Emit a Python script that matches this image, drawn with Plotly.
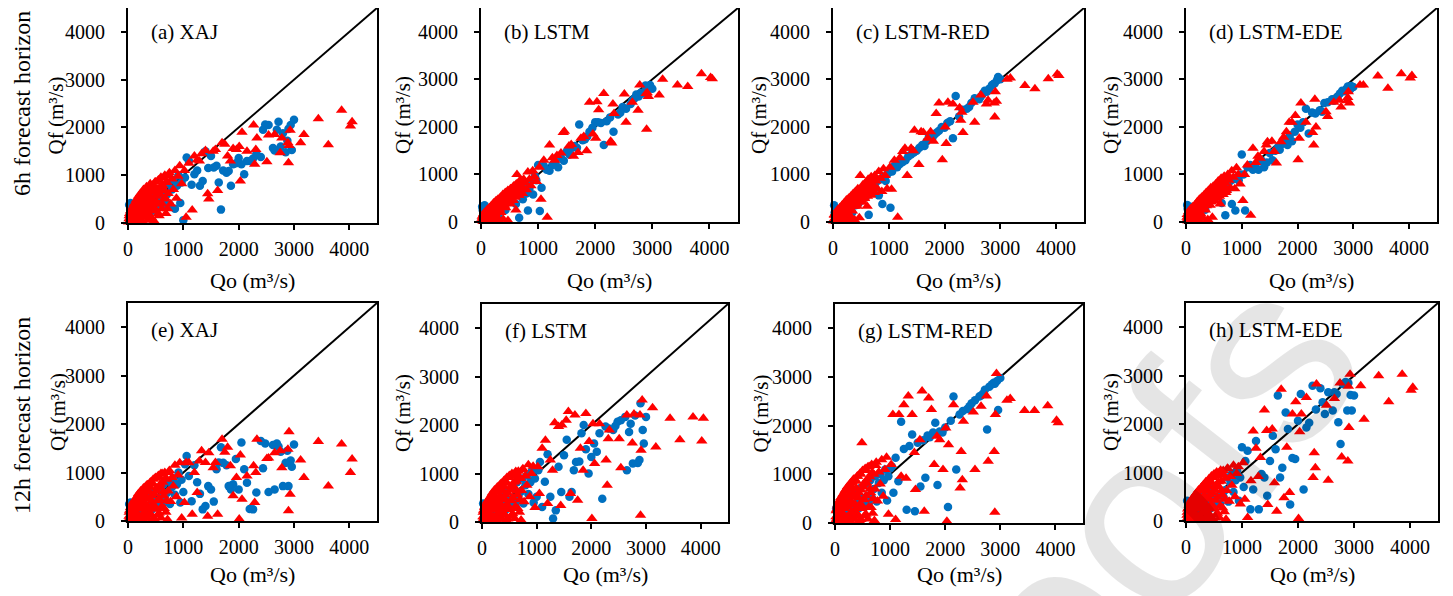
import plotly.graph_objects as go

# ---------------- shared observed discharge (Qo, m3/s) ----------------
RED_QO_HIGH = [4050, 4020, 3860, 3620, 3440, 3180, 3120, 2930, 2910, 2900, 2890, 2780, 2750, 2650,
               2540, 2510, 2330, 2310, 2290, 2270, 2150, 2060, 2030, 2010, 1960, 1900, 1850, 1800,
               1750, 1700, 1620, 1580, 1540, 1460, 1440, 1400, 1330, 1290, 1250, 1200, 1160, 1100,
               1050, 1020]
RED_QO_LOW = [12, 22, 35, 48, 58, 70, 85, 96, 110, 122, 135, 150, 162, 175, 188, 200, 214, 228, 240,
              255, 268, 280, 295, 308, 320, 335, 348, 362, 375, 390, 402, 418, 432, 445, 460, 472,
              488, 502, 518, 533, 548, 562, 578, 595, 612, 630, 648, 665, 685, 705, 725, 748, 770,
              795, 820, 848, 875, 905, 935, 970]
RED_QO_CORE = [18, 30, 42, 55, 66, 78, 90, 104, 116, 128, 142, 155, 168, 180, 194, 206, 220, 232,
               246, 258, 272, 286, 298, 312, 326, 340, 354, 368, 382, 396, 410, 425, 440, 455, 470,
               486, 500, 516, 532, 548, 565, 582, 600, 618, 636, 655, 675, 695, 715, 740]
BLUE_QO_HIGH = [3000, 2960, 2940, 2900, 2880, 2850, 2800, 2760, 2720, 2690, 2650, 2620, 2540, 2480,
                2440, 2400, 2320, 2260, 2200, 2150, 2100, 2050, 2000, 1950, 1900, 1860, 1820, 1780,
                1720, 1680, 1640, 1600, 1550, 1500, 1450, 1400, 1350, 1300, 1250, 1200, 1150, 1100,
                1060, 1030, 1000]
BLUE_QO_LOW = [20, 30, 45, 62, 80, 105, 128, 160, 185, 222, 248, 283, 310, 345, 372, 405, 428, 462,
               495, 518, 552, 585, 612, 640, 668, 705, 732, 758, 795, 822, 848, 885, 912, 945, 968]

# ---------------- forecast discharge (Qf, m3/s) per panel ----------------
# (a) XAJ 6h
A_RED_HIGH = [2120, 2030, 2360, 1640, 2180, 1850, 1680, 1940, 1620, 1260, 1680, 1780, 1470, 1850,
              1840, 1280, 1780, 1540, 1230, 2050, 1500, 1900, 880, 1600, 1540, 1560, 1300, 1400,
              1650, 1680, 680, 1540, 1500, 500, 610, 1520, 1450, 1300, 1320, 1400, 270, 1250, 120, 1100]
A_RED_LOW = [20, 150, 60, 250, 10, 180, 320, 40, 400, 120, 260, 480, 30, 200, 560, 350, 90, 620, 250,
             450, 20, 700, 330, 150, 560, 760, 60, 420, 250, 650, 820, 120, 500, 330, 720, 40, 860, 260,
             580, 400, 900, 150, 680, 960, 300, 780, 500, 1000, 200, 850, 620, 1050, 400, 920, 700,
             1100, 520, 980, 1200, 820]
A_RED_CORE = [90, 200, 120, 260, 40, 300, 170, 360, 80, 250, 420, 150, 330, 480, 60, 400, 240, 540,
              330, 130, 600, 450, 280, 660, 520, 200, 700, 380, 580, 760, 460, 100, 660, 800, 320,
              560, 860, 440, 700, 200, 900, 600, 780, 400, 940, 680, 520, 860, 300, 980]
A_BLUE_HIGH = [2160, 1530, 2050, 1970, 1720, 1480, 1880, 1600, 2120, 1950, 1520, 1570, 2050, 2060,
               1950, 1380, 1450, 1350, 1300, 1300, 1020, 1230, 1360, 1250, 1230, 780, 1090, 1050,
               1100, 280, 850, 1200, 1160, 1400, 1150, 1500, 880, 780, 1100, 1020, 800, 1300, 1370, 950, 60]
A_BLUE_LOW = [380, 60, 420, 150, 300, 80, 250, 350, 120, 400, 200, 480, 300, 150, 520, 350, 250, 600,
              430, 300, 700, 500, 350, 750, 450, 600, 820, 380, 700, 900, 300, 780, 1000, 420, 850]

# (b) LSTM 6h
B_RED_HIGH = [3010, 3040, 3120, 2850, 2880, 3000, 2670, 2640, 2720, 1950, 2700, 2880, 2350, 2520,
              2100, 2690, 2280, 2480, 1660, 1700, 2700, 2360, 2530, 1760, 1850, 2520, 1500, 1800,
              1760, 1460, 1380, 1630, 1600, 1910, 1880, 1450, 1400, 1300, 1350, 1620, 100, 1300, 480, 1150]
B_RED_LOW = [30, 120, 10, 180, 60, 20, 200, 90, 30, 260, 140, 40, 300, 180, 80, 350, 220, 20, 400,
             260, 120, 450, 300, 40, 480, 350, 200, 520, 420, 60, 560, 450, 300, 620, 500, 30, 650,
             540, 380, 700, 600, 450, 760, 660, 250, 1000, 700, 560, 880, 760, 600, 900, 820, 680,
             1050, 900, 760, 1080, 950, 850]
B_RED_CORE = [80, 30, 150, 60, 200, 110, 20, 250, 160, 60, 300, 200, 100, 340, 250, 140, 400, 300,
              180, 440, 350, 60, 480, 400, 270, 520, 420, 320, 580, 470, 350, 620, 520, 400, 660,
              560, 440, 700, 600, 480, 740, 640, 520, 800, 680, 560, 840, 720, 600, 880]
B_BLUE_HIGH = [2800, 2880, 2850, 2760, 2870, 2700, 2720, 2640, 2680, 2600, 2550, 2480, 2380, 2420,
               2300, 2260, 1900, 2200, 2120, 1620, 2080, 2100, 2100, 1980, 1900, 1800, 1740, 1720,
               2050, 1560, 1600, 1560, 1420, 1480, 1290, 1350, 1150, 1250, 1200, 1080, 1100, 1180, 720, 230, 1200]
B_BLUE_LOW = [320, 250, 100, 350, 50, 150, 230, 120, 300, 200, 350, 260, 150, 400, 300, 480, 250, 550,
              420, 600, 500, 650, 380, 700, 90, 560, 480, 820, 600, 240, 700, 880, 580, 960, 880]

# (c) LSTM-RED 6h
C_RED_HIGH = [3080, 3110, 3010, 2800, 2870, 3030, 3000, 2540, 2740, 2210, 2500, 2560, 2480, 2670,
              2100, 2520, 1880, 2310, 2140, 2400, 2480, 2520, 1650, 2000, 1310, 2500, 2280, 1700,
              1900, 1760, 1880, 1900, 1210, 1930, 1500, 1550, 980, 1550, 1480, 1350, 100, 1300, 690, 1150]
C_RED_LOW = [20, 150, 40, 200, 90, 10, 260, 130, 50, 300, 180, 20, 350, 230, 100, 400, 280, 30, 460,
             300, 150, 500, 350, 60, 540, 400, 230, 600, 450, 40, 640, 500, 330, 700, 560, 90, 980,
             600, 420, 780, 650, 500, 820, 700, 330, 900, 760, 560, 950, 800, 640, 980, 860, 700,
             1060, 920, 640, 1120, 980, 700]
C_RED_CORE = [60, 140, 20, 180, 90, 230, 140, 40, 270, 180, 90, 320, 230, 130, 370, 280, 170, 420,
              320, 200, 460, 370, 250, 500, 410, 80, 540, 450, 330, 600, 500, 380, 640, 540, 420,
              680, 580, 460, 720, 620, 500, 760, 660, 540, 820, 700, 580, 860, 740, 620]
C_BLUE_HIGH = [3000, 3050, 2980, 2920, 2900, 2880, 2800, 2740, 2760, 2700, 2640, 2580, 2600, 2500,
               2420, 2380, 2360, 2220, 2650, 1760, 2120, 2080, 1980, 2000, 1920, 1880, 1840, 1760,
               1800, 1700, 1600, 1620, 1560, 1500, 1460, 1420, 1380, 1300, 1260, 1220, 1150, 1180, 1060, 300, 1040]
C_BLUE_LOW = [350, 200, 280, 60, 150, 250, 100, 200, 300, 150, 320, 250, 380, 200, 420, 350, 500, 400,
              560, 480, 620, 520, 680, 150, 720, 640, 800, 720, 860, 560, 900, 380, 940, 860, 1000]

# (d) LSTM-EDE 6h
D_RED_HIGH = [3080, 3030, 3120, 2810, 3070, 2880, 2880, 2500, 2740, 2620, 2550, 2420, 2560, 2520,
              2220, 2320, 2000, 2580, 1620, 1880, 2100, 2500, 1760, 1310, 2240, 2100, 2100, 1900,
              1780, 1690, 1240, 1480, 1700, 1690, 1620, 1480, 1340, 1380, 1250, 1550, 140, 1200, 1000, 450]
D_RED_LOW = [40, 160, 20, 220, 100, 30, 280, 150, 60, 320, 200, 20, 360, 250, 120, 420, 300, 40, 480,
             320, 170, 520, 380, 80, 560, 420, 250, 620, 480, 50, 660, 520, 350, 720, 580, 100, 750,
             620, 440, 800, 680, 520, 860, 720, 380, 920, 780, 580, 960, 820, 660, 1000, 880, 720,
             1080, 940, 700, 1140, 1000, 800]
D_RED_CORE = [100, 40, 170, 80, 220, 130, 30, 270, 190, 80, 320, 230, 120, 360, 270, 160, 420, 320,
              200, 460, 370, 90, 500, 420, 290, 540, 440, 340, 600, 490, 370, 640, 540, 420, 680,
              580, 460, 720, 620, 500, 760, 660, 540, 820, 700, 580, 860, 740, 620, 900]
D_BLUE_HIGH = [2840, 2860, 2780, 2850, 2800, 2750, 2760, 2700, 2640, 2600, 2550, 2580, 2520, 2500,
               2320, 2350, 2280, 2300, 1860, 2380, 2100, 1980, 2050, 1900, 1700, 1820, 1620, 1700,
               1640, 1520, 1560, 1500, 1300, 1450, 1250, 1150, 1300, 1100, 1150, 1100, 1200, 1150, 240, 1000, 1420]
D_BLUE_LOW = [360, 280, 200, 80, 320, 150, 250, 100, 330, 200, 400, 300, 450, 260, 520, 400, 580, 480,
              620, 540, 680, 600, 720, 400, 760, 140, 800, 700, 860, 380, 900, 240, 940, 880, 1000]

# (e) XAJ 12h
E_RED_HIGH = [1280, 1000, 1590, 720, 1640, 900, 1260, 550, 1840, 210, 1480, 1100, 1450, 1410,
              1300, 1290, 1690, 1000, 380, 1140, 930, 450, 1360, 40, 900, 520, 1140, 1520,
              1420, 1690, 140, 1210, 1100, 1410, 100, 1210, 1450, 1240, 590, 1000, 140, 1200, 1210, 380]
E_RED_LOW = [30, 180, 80, 280, 10, 200, 360, 60, 420, 150, 280, 480, 20, 240, 560, 380, 100, 620, 300,
             480, 40, 680, 350, 170, 600, 740, 60, 450, 260, 700, 800, 130, 520, 330, 760, 50, 880, 280,
             620, 420, 920, 160, 700, 980, 300, 800, 520, 1000, 180, 860, 620, 1040, 400, 900, 720,
             1150, 500, 950, 1200, 60]
E_RED_CORE = [100, 220, 40, 290, 150, 340, 60, 400, 220, 20, 460, 300, 120, 520, 380, 40, 580, 260,
              440, 100, 640, 360, 180, 700, 500, 60, 750, 300, 600, 160, 800, 420, 30, 860, 560, 240,
              900, 680, 120, 940, 460, 760, 60, 980, 600, 260, 880, 420, 30, 1000]
E_BLUE_HIGH = [1580, 1120, 1250, 720, 1450, 1200, 720, 1430, 1540, 1600, 650, 1570, 600, 1600,
               1090, 1650, 590, 240, 250, 790, 1070, 1620, 650, 1280, 760, 650, 720, 1150,
               1200, 1520, 1210, 1070, 400, 650, 720, 310, 240, 560, 800, 1150, 410, 930, 1340, 1170, 600]
E_BLUE_LOW = [350, 60, 380, 150, 280, 80, 240, 330, 120, 400, 180, 460, 290, 140, 520, 330, 230, 600,
              420, 300, 680, 480, 320, 750, 430, 580, 820, 350, 700, 880, 540, 760, 1000, 380, 850]

# (f) LSTM 12h
F_RED_HIGH = [2140, 1670, 2170, 1700, 2140, 1550, 2360, 2520, 1480, 140, 2210, 2230, 1630, 2210,
              1120, 1720, 1900, 1720, 760, 1280, 2030, 1210, 2030, 70, 1660, 2240, 1070, 1520,
              450, 2210, 590, 2280, 2100, 2000, 340, 1970, 2050, 1070, 1280, 380, 1690, 1520, 590, 1140]
F_RED_LOW = [40, 200, 90, 300, 20, 220, 380, 70, 450, 160, 300, 520, 30, 260, 600, 400, 110, 660, 320,
             500, 40, 720, 380, 180, 640, 780, 70, 480, 280, 740, 850, 140, 560, 350, 800, 60, 920, 300,
             660, 440, 960, 170, 740, 1000, 320, 840, 560, 1050, 200, 900, 650, 1100, 420, 950, 760,
             1180, 520, 1000, 1150, 300]
F_RED_CORE = [110, 240, 50, 320, 170, 380, 70, 440, 250, 30, 500, 330, 140, 560, 420, 50, 620, 290,
              480, 110, 680, 400, 200, 740, 540, 70, 800, 330, 640, 180, 860, 460, 40, 920, 600, 260,
              960, 720, 130, 1000, 500, 820, 70, 1040, 640, 280, 940, 460, 40, 1080]
F_BLUE_HIGH = [2170, 1620, 1900, 2450, 1280, 1220, 2200, 1210, 2030, 1860, 1070, 2170, 2100, 2070,
               1980, 1900, 1930, 1970, 480, 1830, 1450, 1620, 1340, 1000, 1500, 2000, 1830, 1250,
               1240, 1070, 620, 520, 1700, 1380, 620, 1140, 240, 70, 520, 1400, 830, 310, 1240, 1070, 520]
F_BLUE_LOW = [380, 80, 300, 150, 260, 60, 220, 340, 120, 420, 200, 480, 300, 150, 560, 350, 250, 640,
              440, 300, 720, 500, 340, 820, 480, 620, 900, 380, 760, 960, 580, 820, 1050, 400, 900]

# (g) LSTM-RED 12h
G_RED_HIGH = [2060, 2110, 2410, 2310, 2310, 2560, 2520, 3070, 2230, 220, 1470, 1270, 2610, 2400,
              1100, 2280, 2090, 890, 1470, 720, 2430, 1610, 35, 1950, 1100, 1710, 1780, 1200,
              2330, 2570, 240, 2710, 1710, 690, 1450, 2230, 2610, 920, 2430, 960, 2230, 70, 2230, 1200]
G_RED_LOW = [50, 250, 100, 350, 20, 280, 450, 80, 520, 180, 360, 600, 40, 300, 680, 450, 120, 750, 380,
             560, 50, 820, 420, 200, 700, 900, 80, 540, 300, 860, 960, 150, 620, 380, 1000, 70, 1650,
             340, 740, 480, 1080, 180, 820, 1150, 330, 950, 620, 1200, 200, 1000, 700, 1250, 450,
             1050, 800, 1300, 550, 1100, 1350, 180]
G_RED_CORE = [130, 280, 60, 380, 200, 450, 90, 520, 300, 40, 580, 380, 160, 650, 480, 60, 720, 340,
              560, 130, 780, 460, 230, 840, 620, 80, 900, 380, 720, 200, 960, 520, 50, 1020, 680, 300,
              1080, 800, 150, 1120, 560, 900, 80, 1160, 700, 320, 1040, 500, 50, 1180]
G_BLUE_HIGH = [2980, 2320, 2920, 2860, 2880, 2850, 2800, 1920, 2740, 2660, 2620, 2600, 2520, 2460,
               2400, 2340, 2300, 2230, 1100, 2600, 2100, 330, 1960, 1860, 1880, 780, 2060, 1860,
               1760, 1800, 930, 1700, 750, 1650, 240, 1820, 1580, 270, 1520, 2080, 860, 1340, 620, 1160, 1120]
G_BLUE_LOW = [300, 100, 250, 380, 180, 60, 300, 420, 150, 500, 260, 580, 350, 180, 650, 420, 300, 720,
              500, 360, 800, 560, 400, 880, 520, 700, 960, 440, 820, 1000, 620, 880, 1100, 460, 960]

# (h) LSTM-EDE 12h
H_RED_HIGH = [2760, 2700, 3030, 2460, 3000, 2100, 2790, 3030, 1930, 2780, 1240, 1320, 2850, 2530,
              840, 2390, 2830, 1100, 1410, 900, 2550, 2210, 1840, 50, 2460, 2210, 590, 1520,
              480, 2720, 200, 790, 1900, 340, 1870, 2290, 1310, 920, 1500, 1860, 830, 70, 450, 1200]
H_RED_LOW = [30, 180, 70, 280, 15, 200, 350, 60, 420, 140, 280, 500, 25, 240, 580, 380, 100, 640, 300,
             480, 40, 700, 360, 170, 620, 760, 60, 460, 260, 720, 820, 130, 540, 340, 780, 50, 900, 280,
             640, 430, 940, 160, 720, 1000, 310, 820, 540, 1040, 190, 880, 630, 1080, 410, 920, 740,
             1150, 500, 980, 1120, 350]
H_RED_CORE = [120, 250, 40, 330, 160, 390, 60, 450, 240, 25, 510, 320, 130, 570, 410, 45, 630, 280,
              470, 100, 690, 390, 190, 750, 530, 60, 810, 320, 630, 170, 870, 450, 35, 930, 590, 250,
              970, 710, 120, 1010, 490, 810, 60, 1050, 630, 270, 950, 450, 35, 1090]
H_BLUE_HIGH = [2590, 2280, 2600, 2850, 2280, 2870, 2830, 1590, 2040, 2620, 2660, 2280, 2660, 2210,
               2450, 2740, 2300, 2790, 2030, 1930, 650, 2620, 2070, 1280, 1300, 340, 1900, 2240,
               1100, 900, 2590, 1480, 1760, 1240, 520, 900, 970, 240, 1650, 650, 240, 1450, 1240, 700, 1520]
H_BLUE_LOW = [420, 90, 330, 160, 270, 70, 240, 360, 130, 440, 210, 500, 320, 160, 580, 370, 260, 660,
              460, 320, 740, 520, 350, 1000, 500, 640, 900, 400, 780, 980, 600, 840, 1050, 420, 900]

PANEL_LABELS = ["(a) XAJ", "(b) LSTM", "(c) LSTM-RED", "(d) LSTM-EDE",
                "(e) XAJ", "(f) LSTM", "(g) LSTM-RED", "(h) LSTM-EDE"]
ROW_TITLES = ["6h forecast horizon", "12h forecast horizon"]
TICK_VALUES = [0, 1000, 2000, 3000, 4000]
AXIS_MAX = 4500
X_TITLE = "Qo (m³/s)"
Y_TITLE = "Qf (m³/s)"
WATERMARK = "oofs"

PANEL_DATA = [
    (A_RED_HIGH + A_RED_LOW + A_RED_CORE, A_BLUE_HIGH + A_BLUE_LOW),
    (B_RED_HIGH + B_RED_LOW + B_RED_CORE, B_BLUE_HIGH + B_BLUE_LOW),
    (C_RED_HIGH + C_RED_LOW + C_RED_CORE, C_BLUE_HIGH + C_BLUE_LOW),
    (D_RED_HIGH + D_RED_LOW + D_RED_CORE, D_BLUE_HIGH + D_BLUE_LOW),
    (E_RED_HIGH + E_RED_LOW + E_RED_CORE, E_BLUE_HIGH + E_BLUE_LOW),
    (F_RED_HIGH + F_RED_LOW + F_RED_CORE, F_BLUE_HIGH + F_BLUE_LOW),
    (G_RED_HIGH + G_RED_LOW + G_RED_CORE, G_BLUE_HIGH + G_BLUE_LOW),
    (H_RED_HIGH + H_RED_LOW + H_RED_CORE, H_BLUE_HIGH + H_BLUE_LOW),
]
RED_QO = RED_QO_HIGH + RED_QO_LOW + RED_QO_CORE
BLUE_QO = BLUE_QO_HIGH + BLUE_QO_LOW

# ---------------- layout geometry (page pixels) ----------------
PAGE_OFFSET = 8            # default body margin of the html page
W, H = 1453 - PAGE_OFFSET, 596 - PAGE_OFFSET


def px(xp):
    return (xp - PAGE_OFFSET) / W


def py(yp):
    return min(1.0, max(0.0, 1 - (yp - PAGE_OFFSET) / H))


BOXES = [  # left, right, top, bottom (page pixels)
    (128, 377, 8, 223), (481, 738, 8, 222), (833, 1084, 8, 222), (1186, 1437, 8, 222),
    (128, 377, 303, 521), (482, 728, 304, 522), (835, 1083, 304, 523), (1186, 1438, 303, 521),
]
YTITLE_OFFSET = [72, 78, 74, 75, 70, 79, 75, 75]

FONT = "Liberation Serif, Times New Roman, serif"
BLUE = "#0070C0"
RED = "#FF0000"

fig = go.Figure()
annotations = []
layout_axes = {}

for i, (left, right, top, bottom) in enumerate(BOXES):
    n = i + 1
    xname = "x" if n == 1 else f"x{n}"
    yname = "y" if n == 1 else f"y{n}"
    red_qf, blue_qf = PANEL_DATA[i]

    fig.add_trace(go.Scatter(x=[0, AXIS_MAX], y=[0, AXIS_MAX], mode="lines",
                             line=dict(color="black", width=2), xaxis=xname, yaxis=yname,
                             showlegend=False, hoverinfo="skip"))
    fig.add_trace(go.Scatter(x=BLUE_QO, y=blue_qf, mode="markers",
                             marker=dict(symbol="circle", size=8.5, color=BLUE, line=dict(width=0)),
                             xaxis=xname, yaxis=yname, showlegend=False, cliponaxis=False))
    fig.add_trace(go.Scatter(x=RED_QO, y=red_qf, mode="markers",
                             marker=dict(symbol="triangle-up", size=10, color=RED, line=dict(width=0)),
                             xaxis=xname, yaxis=yname, showlegend=False, cliponaxis=False))

    common = dict(range=[0, AXIS_MAX], tickvals=TICK_VALUES, showgrid=False, zeroline=False,
                  showline=True, linecolor="black", linewidth=2, mirror=True, automargin=False,
                  ticks="outside", ticklen=5, tickwidth=1.5, tickcolor="black",
                  tickfont=dict(family=FONT, size=20, color="black"))
    layout_axes["xaxis" if n == 1 else f"xaxis{n}"] = dict(
        common, domain=[px(left), px(right)], anchor=yname, ticklabelstandoff=2)
    layout_axes["yaxis" if n == 1 else f"yaxis{n}"] = dict(
        common, domain=[py(bottom), py(top)], anchor=xname, ticklabelstandoff=12)

    label_top = 5 if i < 4 else top
    annotations.append(dict(text=PANEL_LABELS[i], xref="paper", yref="paper",
                            x=px(left + 21), y=py(label_top + 27), xanchor="left", yanchor="middle",
                            showarrow=False, font=dict(family=FONT, size=21, color="black")))
    row_xtitle_y = 280 if i < 4 else 574
    annotations.append(dict(text=X_TITLE, xref="paper", yref="paper",
                            x=px((left + right) / 2), y=py(row_xtitle_y),
                            xanchor="center", yanchor="middle", showarrow=False,
                            font=dict(family=FONT, size=22, color="black")))
    annotations.append(dict(text=Y_TITLE, xref="paper", yref="paper",
                            x=px(left - YTITLE_OFFSET[i]), y=py((top + bottom) / 2),
                            xanchor="center", yanchor="middle", textangle=-90, showarrow=False,
                            borderpad=0, font=dict(family=FONT, size=21, color="black")))

for title, yc in zip(ROW_TITLES, [104, 416]):
    annotations.append(dict(text=title, xref="paper", yref="paper", x=px(22), y=py(yc),
                            xanchor="center", yanchor="middle", textangle=-90, showarrow=False,
                            borderpad=0, font=dict(family=FONT, size=24, color="black")))

# faint journal watermark (lower right)
annotations.append(dict(text=WATERMARK, xref="paper", yref="paper", x=px(1155), y=py(498),
                        xanchor="center", yanchor="middle", textangle=-52, showarrow=False,
                        font=dict(family="Liberation Sans, Arial, sans-serif", size=255,
                                  color="rgba(0,0,0,0.1)")))

fig.update_layout(width=W, height=H, margin=dict(l=0, r=0, t=0, b=0),
                  paper_bgcolor="white", plot_bgcolor="rgba(0,0,0,0)",
                  annotations=annotations, **layout_axes)

fig.write_html("out.html")
